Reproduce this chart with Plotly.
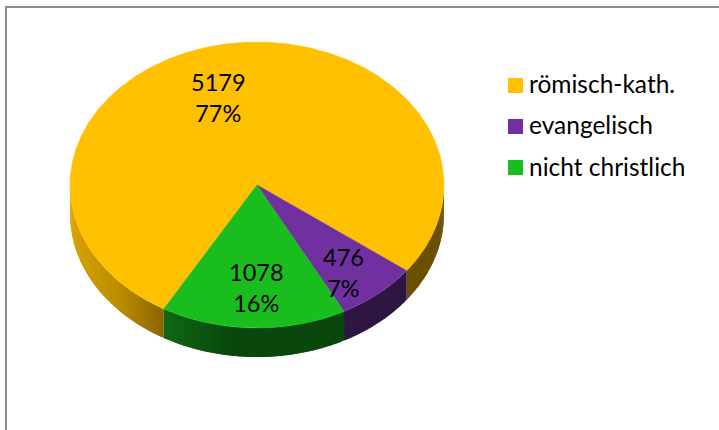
import numpy as np
import plotly.graph_objects as go

categories = ["römisch-kath.", "evangelisch", "nicht christlich"]
values = [5179, 476, 1078]
percent_labels = ["77%", "7%", "16%"]
top_colors = ["#FFC000", "#7030A0", "#19BD1E"]

# layout of the tilted disc, in plot units (1 unit = 1 px)
CX, CY, RX, RY, DEPTH = 257.0, 185.0, 187.0, 143.0, 29.0
START_DEG = -150.1  # orange runs clockwise from here (deg from 12 o'clock)
LABEL_POS = [(218, 97), (343, 272.5), (256, 287)]
LEGEND_Y = [85.5, 126.5, 167.5]
LEGEND_TEXT_Y = [86.5, 128, 169.5]

def hex2rgb(h):
    return np.array([int(h[i:i + 2], 16) for i in (1, 3, 5)], float)

def mix(stops, x):
    xs = [s[0] for s in stops]
    rgb = np.array([hex2rgb(s[1]) for s in stops])
    return "rgb(%d,%d,%d)" % tuple(np.interp(x, xs, rgb[:, i]) for i in range(3))

wall_stops = [
    [(70, "#D8A502"), (120, "#BC8E00"), (163, "#8F6700"), (257, "#6B5000"), (444, "#6B5000")],
    [(257, "#2E1642"), (444, "#2E1642")],
    [(163, "#106C15"), (235, "#0A470C"), (350, "#0A470C")],
]

def ex(a):
    return CX + RX * np.sin(np.radians(a))

def ey(a):
    return CY - RY * np.cos(np.radians(a))

fig = go.Figure()

total = sum(values)
edges = [START_DEG]
for v in values:
    edges.append(edges[-1] + 360.0 * v / total)

# visible side wall: only clockwise angles between 90 and 270
for i in range(3):
    a0, a1 = edges[i], edges[i + 1]
    for shift in (-360, 0, 360):
        lo, hi = max(a0, 90 + shift), min(a1, 270 + shift)
        if hi <= lo:
            continue
        n = int(np.ceil(hi - lo))
        grid = np.linspace(lo, hi, n + 1)
        # paint from the far end so each slice overlaps its neighbour and hides the seam
        for g0, g1 in zip(grid[:-1][::-1], grid[1:][::-1]):
            arc = np.linspace(g0, min(g1 + 0.8, hi), 4)
            xs = np.r_[ex(arc), ex(arc)[::-1], ex(arc[0])]
            ys = np.r_[ey(arc), ey(arc)[::-1] + DEPTH, ey(arc[0])]
            col = mix(wall_stops[i], ex((g0 + g1) / 2))
            fig.add_trace(go.Scatter(x=xs, y=ys, mode="lines", fill="toself", fillcolor=col,
                                     line=dict(color=col, width=0), hoverinfo="skip",
                                     showlegend=False))

# top face
for i in range(3):
    arc = np.linspace(edges[i], edges[i + 1], max(int(edges[i + 1] - edges[i]) * 2, 8))
    xs = np.r_[CX, ex(arc), CX]
    ys = np.r_[CY, ey(arc), CY]
    fig.add_trace(go.Scatter(x=xs, y=ys, mode="lines", fill="toself", fillcolor=top_colors[i],
                             line=dict(color=top_colors[i], width=0.5), name=categories[i],
                             showlegend=False, hoverinfo="name"))

# data labels
for i in range(3):
    fig.add_annotation(x=LABEL_POS[i][0], y=LABEL_POS[i][1], text=f"{values[i]}<br>{percent_labels[i]}",
                       showarrow=False, font=dict(family="Lato", size=23.5, color="#000000"),
                       align="center", xanchor="center", yanchor="middle")

# legend
for i in range(3):
    fig.add_trace(go.Scatter(x=[515.5], y=[LEGEND_Y[i]], mode="markers",
                             marker=dict(symbol="square", size=15, color=top_colors[i]),
                             showlegend=False, hoverinfo="skip"))
    fig.add_trace(go.Scatter(x=[529], y=[LEGEND_TEXT_Y[i]], mode="text",
                             text=[categories[i]], textposition="middle right",
                             textfont=dict(family="Lato", size=24.5, color="#000000"),
                             showlegend=False, hoverinfo="skip"))

# frame
fig.add_shape(type="line", x0=6, x1=6, y0=7, y1=430, line=dict(color="#8C8C8C", width=2))
fig.add_shape(type="line", x0=5, x1=719, y0=7, y1=7, line=dict(color="#8C8C8C", width=2))

fig.update_layout(
    width=719, height=430, margin=dict(l=0, r=0, t=0, b=0),
    paper_bgcolor="white", plot_bgcolor="white", showlegend=False,
    xaxis=dict(range=[0, 719], visible=False, fixedrange=True),
    yaxis=dict(range=[430, 0], visible=False, fixedrange=True),
)
fig.write_html("out.html", config=dict(displayModeBar=False),
               post_script="document.body.style.margin='0';document.body.style.overflow='hidden';")
